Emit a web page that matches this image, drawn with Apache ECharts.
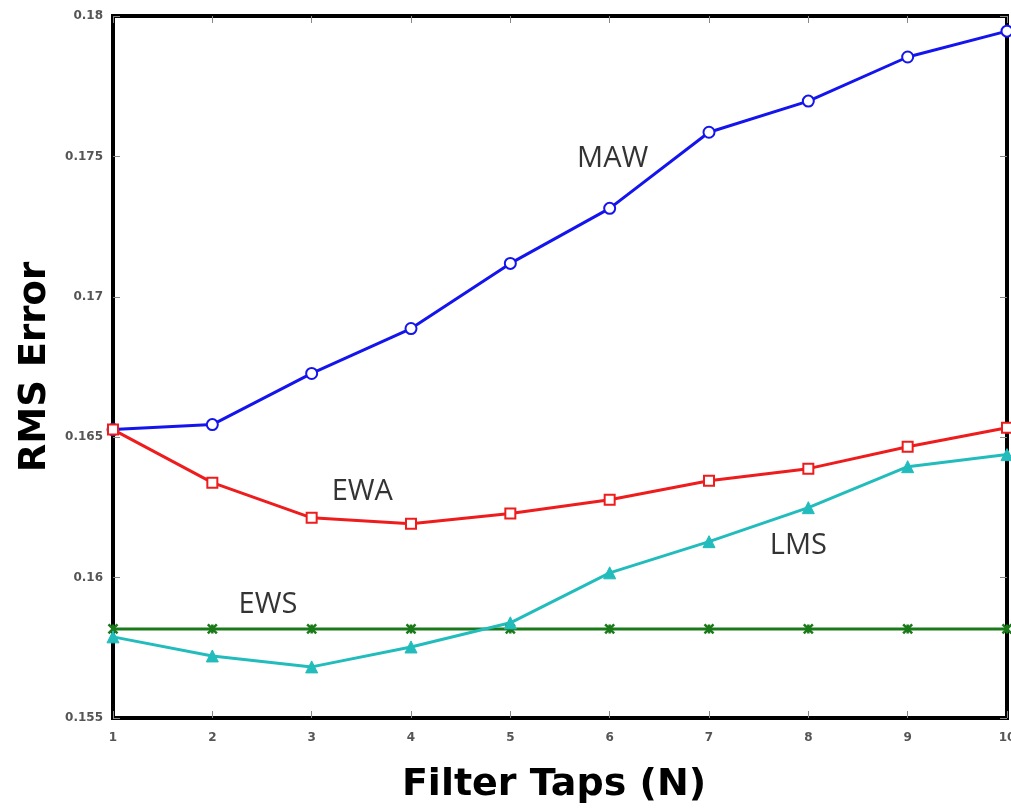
<!DOCTYPE html>
<html><head><meta charset="utf-8">
<script src="https://cdn.jsdelivr.net/npm/echarts@6/dist/echarts.min.js"></script>
<style>html,body{margin:0;padding:0;background:#fff;overflow:hidden}#c{width:1011px;height:808px}</style>
</head><body><div id="c"></div>
<script>
const taps = [1,2,3,4,5,6,7,8,9,10];
const maw = [0.16527,0.16545,0.16727,0.16887,0.17119,0.17315,0.17586,0.17697,0.17854,0.17946];
const ewa = [0.16527,0.16338,0.16213,0.16192,0.16228,0.16277,0.16345,0.16388,0.16466,0.16534];
const lms = [0.15789,0.15721,0.15682,0.15753,0.15839,0.16017,0.16128,0.16249,0.16395,0.16438];
const ews = [0.15817,0.15817,0.15817,0.15817,0.15817,0.15817,0.15817,0.15817,0.15817,0.15817];
const yTicks = [0.155,0.16,0.165,0.17,0.175,0.18];
const labels = [
  {name:'MAW', x:6.03, y:0.17490},
  {name:'EWA', x:3.51, y:0.16306},
  {name:'LMS', x:7.9, y:0.16113},
  {name:'EWS', x:2.56, y:0.15903}
];

const chart = echarts.init(document.getElementById('c'), null, {renderer:'canvas'});
const pair = a => taps.map((t,i)=>[t,a[i]]);
const xPath = 'path://M0,0L10,10M10,0L0,10M5,0L5,10';
function mk(name, data, color, symbol, size, bw){
  return {
    type:'line', name, data: pair(data), xAxisIndex:0, yAxisIndex:0,
    lineStyle:{color, width:3}, itemStyle:{color, borderColor:color, borderWidth:bw},
    symbol, symbolSize:size, showSymbol:true, z:3, animation:false
  };
}
const series = [
  mk('MAW', maw, '#1414ee', 'emptyCircle', 11, 2.5),
  mk('EWA', ewa, '#ee1c1c', 'emptyRect', 10, 2.5),
  mk('EWS', ews, '#1a7a1a', xPath, 9, 2.5),
  mk('LMS', lms, '#22bcbc', 'triangle', 12, 1)
];
series.push({
  type:'scatter', data: labels.map(l=>({value:[l.x,l.y], name:l.name})),
  symbolSize:0, silent:true, animation:false,
  label:{show:true, position:'inside', formatter:p=>p.name, color:'#000', fontSize:29, fontFamily:'Open Sans'}
});

chart.setOption({
  animation:false,
  grid:{left:113, right:4, top:16, bottom:90, show:true, borderColor:'#000', borderWidth:4,
        backgroundColor:'#fff', outerBoundsMode:'none', containLabel:false},
  xAxis:[
    {type:'value', min:1, max:10, interval:1, position:'bottom',
     name:'Filter Taps (N)', nameLocation:'middle', nameGap:48,
     nameTextStyle:{fontFamily:'DejaVu Sans', fontWeight:'bold', fontSize:38, color:'#000', padding:[0,12,0,0]},
     axisLine:{show:false}, axisTick:{inside:true, length:7, lineStyle:{color:'#888'}},
     axisLabel:{fontFamily:'DejaVu Sans', fontWeight:'bold', fontSize:12, color:'#555', margin:14},
     splitLine:{show:false}},
    {type:'value', min:1, max:10, interval:1, position:'top',
     axisLine:{show:false}, axisTick:{inside:true, length:7, lineStyle:{color:'#888'}},
     axisLabel:{show:false}, splitLine:{show:false}}
  ],
  yAxis:[
    {type:'value', min:0.155, max:0.18, interval:0.005,
     name:'RMS Error', nameLocation:'middle', nameGap:51, nameRotate:90,
     nameTextStyle:{fontFamily:'DejaVu Sans', fontWeight:'bold', fontSize:37, color:'#000'},
     axisLine:{show:false}, axisTick:{inside:true, length:7, lineStyle:{color:'#888'}},
     axisLabel:{fontFamily:'DejaVu Sans', fontWeight:'bold', fontSize:12, color:'#555', margin:10,
       formatter:v=>{const t=yTicks.find(x=>Math.abs(x-v)<1e-9);return t===undefined?'':String(t);}},
     splitLine:{show:false}},
    {type:'value', min:0.155, max:0.18, interval:0.005, position:'right',
     axisLine:{show:false}, axisTick:{inside:true, length:7, lineStyle:{color:'#888'}},
     axisLabel:{show:false}, splitLine:{show:false}}
  ],
  series
});
</script></body></html>
